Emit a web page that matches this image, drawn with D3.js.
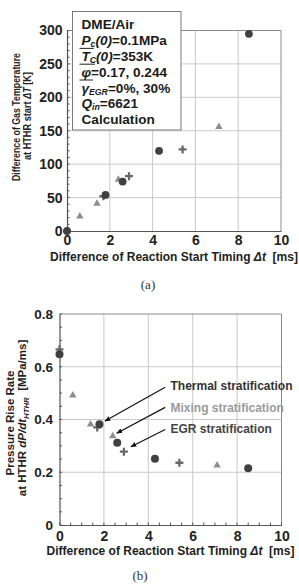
<!DOCTYPE html>
<html><head><meta charset="utf-8">
<script src="https://cdn.jsdelivr.net/npm/d3@7"></script>
<style>
body{margin:0;background:#fff}
svg{display:block;font-family:"Liberation Sans",Arial,sans-serif}
</style>
</head><body>
<svg id="c" width="299" height="584"></svg>
<script>
// ---------- data ----------
const xTicks = [0, 2, 4, 6, 8, 10];
const tempTicks = [0, 50, 100, 150, 200, 250, 300];
const rateTicks = [0, 0.2, 0.4, 0.6, 0.8];
const rateTickLabels = ["0", "0.2", "0.4", "0.6", "0.8"];

// Thermal stratification (circles)
const thermalDt = [0, 1.8, 2.6, 4.3, 8.5];
const thermalDT = [0, 54, 74, 120, 295];
const thermalRate = [0.647, 0.382, 0.312, 0.251, 0.215];
// Mixing stratification (triangles)
const mixingDt = [0, 0.6, 1.4, 2.4, 7.1];
const mixingDT = [0, 22, 41, 77, 156];
const mixingRate = [0.655, 0.492, 0.382, 0.337, 0.226];
// EGR stratification (plus)
const egrDt = [0, 1.7, 2.9, 5.4];
const egrDT = [0, 52, 82, 122];
const egrRate = [0.666, 0.370, 0.278, 0.236];

const seriesNames = ["Thermal stratification", "Mixing stratification", "EGR stratification"];

// ---------- helpers ----------
const svg = d3.select("#c");
const C_TH = "#404040", C_MX = "#8e8e8e", C_EGR = "#686868";

function zip(xs, ys) { return xs.map((x, i) => ({x, y: ys[i]})); }

function richText(g, x, y, segs, size, fill, extra, subShift, subScale) {
  const t = g.append("text").attr("x", x).attr("y", y)
    .attr("font-size", size).attr("font-weight", "bold").attr("fill", fill);
  if (extra) extra(t);
  const ss = subShift == null ? 0.22 * size : subShift;
  const sc = subScale == null ? 0.68 : subScale;
  let shift = 0, idx = 0; const overs = [];
  segs.forEach(s => {
    const o = typeof s === "string" ? {t: s} : s;
    const target = o.sub ? ss : 0;
    const ts = t.append("tspan").text(o.t);
    const dy = target - shift; if (dy) ts.attr("dy", dy); shift = target;
    if (o.sub) ts.attr("font-size", size * sc);
    if (o.it) ts.attr("font-style", "italic");
    if (o.over) overs.push(idx);
    idx += o.t.length;
  });
  return {t, overs};
}

function drawPanel(cfg) {
  const x = d3.scaleLinear().domain([0, 10]).range(cfg.xr);
  const y = d3.scaleLinear().domain(cfg.yd).range(cfg.yr);
  const g = svg.append("g");
  const [x0, x1] = cfg.xr, [y0, y1] = cfg.yr;

  // grid
  g.selectAll(".gv").data(xTicks.filter(v => v > 0 && v < 10)).enter().append("line")
    .attr("x1", d => x(d)).attr("x2", d => x(d)).attr("y1", y0).attr("y2", y1)
    .attr("stroke", "#c9c9c9").attr("stroke-width", 1);
  g.selectAll(".gh").data(cfg.yTicks.filter(v => v > cfg.yd[0] && v < cfg.yd[1])).enter().append("line")
    .attr("x1", x0).attr("x2", x1).attr("y1", d => y(d)).attr("y2", d => y(d))
    .attr("stroke", "#c9c9c9").attr("stroke-width", 1);
  // frame top/right
  g.append("path").attr("d", `M${x0},${y1}H${x1}V${y0}`).attr("fill", "none")
    .attr("stroke", "#8a8a8a").attr("stroke-width", 1);
  // minor ticks
  g.selectAll(".my").data(d3.range(cfg.yd[0], cfg.yd[1] + 1e-9, cfg.yMinor)).enter().append("line")
    .attr("x1", x0).attr("x2", x0 + 2.5).attr("y1", d => y(d)).attr("y2", d => y(d))
    .attr("stroke", "#555").attr("stroke-width", 1);
  if (cfg.xMinor) {
    g.selectAll(".mx").data(d3.range(0, 10 + 1e-9, cfg.xMinor)).enter().append("line")
      .attr("x1", d => x(d)).attr("x2", d => x(d)).attr("y1", y0).attr("y2", y0 - 2.5)
      .attr("stroke", "#555").attr("stroke-width", 1);
  }
  // axes
  const ax = g.append("g").attr("transform", `translate(0,${y0})`)
    .call(d3.axisBottom(x).tickValues(xTicks).tickSize(0).tickPadding(cfg.xPad).tickFormat(d3.format("d")));
  ax.select(".domain").attr("stroke", "#555").attr("stroke-width", 1.2);
  ax.selectAll("text").attr("font-size", cfg.xTickSize).attr("font-weight", "bold")
    .attr("font-family", "Liberation Sans, Arial, sans-serif").attr("fill", "#222");
  const ay = g.append("g").attr("transform", `translate(${x0},0)`)
    .call(d3.axisLeft(y).tickValues(cfg.yTicks).tickSize(0).tickPadding(cfg.yPad)
      .tickFormat((d, i) => cfg.yLabels[i]));
  ay.select(".domain").attr("stroke", "#555").attr("stroke-width", 1.2);
  ay.selectAll("text").attr("font-size", cfg.yTickSize).attr("font-weight", "bold")
    .attr("font-family", "Liberation Sans, Arial, sans-serif").attr("fill", "#222");

  // x title
  richText(g, (x0 + x1) / 2, cfg.xTitleY,
    ["Difference of Reaction Start Timing ", {t: "\u0394t", it: true}, "\u00a0\u00a0[ms]"],
    12, "#222", t => t.attr("text-anchor", "middle"));
  // y titles
  cfg.yTitles.forEach(yt => {
    richText(g, 0, 0, yt.segs, yt.size, "#222", t => {
      t.attr("text-anchor", "middle").attr("transform", `translate(${yt.bx},${yt.cy}) rotate(-90)`);
      if (yt.len) t.attr("textLength", yt.len).attr("lengthAdjust", "spacingAndGlyphs");
    });
  });
  // caption
  g.append("text").attr("x", cfg.capX).attr("y", cfg.capY).attr("text-anchor", "middle")
    .attr("font-family", "Liberation Serif, Times New Roman, serif").attr("font-size", 13)
    .attr("fill", "#333").text(cfg.cap);

  // marks
  const tri = d3.symbol().type(d3.symbolTriangle).size(cfg.triSize);
  g.selectAll(".tri").data(zip(mixingDt, cfg.mixing)).enter().append("path")
    .attr("d", tri).attr("transform", d => `translate(${x(d.x)},${y(d.y)})`).attr("fill", C_MX);
  const a = cfg.plusArm;
  g.selectAll(".plus").data(zip(egrDt, cfg.egr)).enter().append("path")
    .attr("d", d => `M${x(d.x) - a},${y(d.y)}h${2 * a}M${x(d.x)},${y(d.y) - a}v${2 * a}`)
    .attr("stroke", C_EGR).attr("stroke-width", 2.3).attr("fill", "none");
  g.selectAll(".cir").data(zip(thermalDt, cfg.thermal)).enter().append("circle")
    .attr("cx", d => x(d.x)).attr("cy", d => y(d.y)).attr("r", cfg.r).attr("fill", C_TH);
  return {g, x, y};
}

// ---------- panel (a) ----------
const pa = drawPanel({
  xr: [67, 281], yr: [231, 30.5], yd: [0, 300], yTicks: tempTicks, yLabels: tempTicks.map(String),
  yMinor: 10, xMinor: null, xPad: 4, yPad: 4.5, xTickSize: 14, yTickSize: 14,
  xTitleY: 261, capX: 148, capY: 289, cap: "(a)",
  yTitles: [
    {segs: ["Difference of Gas Temperature"], size: 10.5, bx: 19.5, cy: 117, len: 128},
    {segs: ["at HTHR start ", {t: "\u0394T", it: true}, " [K]"], size: 10.5, bx: 31, cy: 116, len: 88}
  ],
  thermal: thermalDT, mixing: mixingDT, egr: egrDT, r: 3.9, triSize: 24, plusArm: 4
});

// legend box
const box = pa.g.append("g");
box.append("rect").attr("x", 72.5).attr("y", 11.5).attr("width", 108.5).attr("height", 118.5)
  .attr("fill", "#fff").attr("stroke", "#7a7a7a").attr("stroke-width", 1);
const legendLines = [
  ["DME/Air"],
  [{t: "P", it: true}, {t: "c", it: true, sub: true}, {t: "(0)", it: true}, "=0.1MPa"],
  [{t: "T", it: true, over: true}, {t: "C", it: true, sub: true}, {t: "(0)", it: true}, "=353K"],
  [{t: "\u03c6", it: true, over: true}, "=0.17, 0.244"],
  [{t: "\u03b3", it: true, over: true}, {t: "EGR", it: true, sub: true}, "=0%, 30%"],
  [{t: "Q", it: true}, {t: "in", it: true, sub: true}, "=6621"],
  ["Calculation"]
];
legendLines.forEach((segs, i) => {
  const by = 29.3 + i * 15.8;
  const r = richText(box, 81.5, by, segs, 13.6, "#1a1a1a", null, 2, 0.64);
  r.overs.forEach(ci => {
    const e = r.t.node().getExtentOfChar(ci);
    box.append("line").attr("x1", e.x - 2).attr("x2", e.x + e.width + 4)
      .attr("y1", by - 12.5).attr("y2", by - 12.5).attr("stroke", "#333").attr("stroke-width", 1.1);
  });
});

// ---------- panel (b) ----------
const pb = drawPanel({
  xr: [59.5, 281.5], yr: [525, 314], yd: [0, 0.8], yTicks: rateTicks, yLabels: rateTickLabels,
  yMinor: 0.05, xMinor: 0.5, xPad: 6.5, yPad: 6.5, xTickSize: 14, yTickSize: 13.5,
  xTitleY: 555, capX: 140, capY: 580, cap: "(b)",
  yTitles: [
    {segs: ["Pressure Rise Rate"], size: 11.5, bx: 14, cy: 423},
    {segs: ["at HTHR ", {t: "dP/dt", it: true}, {t: "HTHR", it: true, sub: true}, {t: "\u00a0\u00a0[MPa/ms]"}], size: 11.5, bx: 26, cy: 418}
  ],
  thermal: thermalRate, mixing: mixingRate, egr: egrRate, r: 4, triSize: 24, plusArm: 4
});

// annotations (data coordinates of panel b)
const annText = seriesNames;
const annColor = ["#333", "#9a9a9a", "#444"];
const annTextX = 5.0;
const annTextY = [0.510, 0.430, 0.349];
const annStartX = 4.76;
const annStartY = [0.522, 0.446, 0.362];
const annEndX = [2.05, 2.58, 3.22];
const annEndY = [0.394, 0.348, 0.297];

svg.append("defs").append("marker").attr("id", "ah").attr("viewBox", "0 0 10 10")
  .attr("refX", 9).attr("refY", 5).attr("markerWidth", 6).attr("markerHeight", 6)
  .attr("markerUnits", "userSpaceOnUse").attr("orient", "auto")
  .append("path").attr("d", "M0,1L10,5L0,9Z").attr("fill", "#111");

annText.forEach((txt, i) => {
  pb.g.append("line")
    .attr("x1", pb.x(annStartX)).attr("y1", pb.y(annStartY[i]))
    .attr("x2", pb.x(annEndX[i])).attr("y2", pb.y(annEndY[i]))
    .attr("stroke", "#111").attr("stroke-width", 1.2).attr("marker-end", "url(#ah)");
  pb.g.append("text").attr("x", pb.x(annTextX)).attr("y", pb.y(annTextY[i]))
    .attr("font-size", 12).attr("font-weight", "bold").attr("fill", annColor[i]).text(txt);
});
</script>
</body></html>
